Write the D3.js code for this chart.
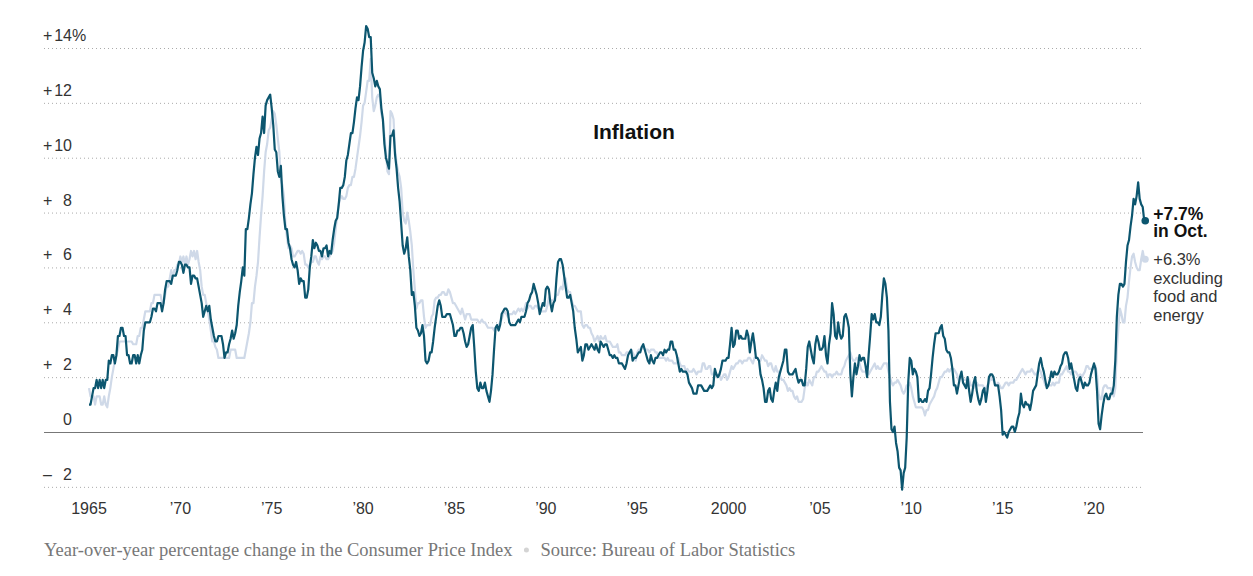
<!DOCTYPE html>
<html>
<head>
<meta charset="utf-8">
<script src="https://cdn.jsdelivr.net/npm/d3@7"></script>
<style>
  body { margin: 0; background: #fff; }
  svg { display: block; }
</style>
</head>
<body>
<script>
var w = 1253;
var h = 576;

// monthly year-over-year change, Jan 1965 .. Oct 2022
var startYear = 1965;
var allItems = [
  1.0, 1.0, 1.3, 1.6, 1.6, 1.9, 1.6, 1.9, 1.6, 1.9, 1.6, 1.9,
  1.9, 2.6, 2.5, 2.8, 2.8, 2.5, 2.8, 3.5, 3.5, 3.8, 3.8, 3.5,
  3.5, 2.8, 2.8, 2.5, 2.5, 2.8, 2.8, 2.5, 2.8, 2.5, 2.8, 3.0,
  3.7, 4.0, 4.0, 4.0, 4.0, 4.2, 4.5, 4.5, 4.4, 4.7, 4.7, 4.7,
  4.4, 4.7, 5.2, 5.5, 5.5, 5.5, 5.4, 5.7, 5.7, 5.7, 5.9, 6.2,
  6.2, 6.1, 5.8, 6.1, 6.1, 6.0, 6.0, 5.4, 5.7, 5.7, 5.6, 5.6,
  5.3, 5.0, 4.7, 4.2, 4.4, 4.6, 4.4, 4.6, 4.1, 3.8, 3.5, 3.3,
  3.3, 3.5, 3.5, 3.5, 3.2, 2.7, 2.9, 2.9, 3.2, 3.4, 3.7, 3.4,
  3.6, 3.9, 4.6, 5.1, 5.5, 6.0, 5.7, 7.4, 7.4, 7.8, 8.3, 8.7,
  9.4, 10.0, 10.4, 10.1, 10.7, 10.9, 11.5, 10.9, 11.9, 12.1, 12.2, 12.3,
  11.8, 11.2, 10.3, 10.2, 9.5, 9.3, 9.7, 8.6, 7.9, 7.4, 7.4, 6.9,
  6.7, 6.3, 6.1, 6.0, 6.2, 5.9, 5.4, 5.6, 5.5, 5.5, 4.9, 4.9,
  5.2, 6.0, 6.4, 7.0, 6.7, 6.9, 6.8, 6.6, 6.6, 6.4, 6.7, 6.7,
  6.8, 6.4, 6.6, 6.5, 7.0, 7.4, 7.7, 7.8, 8.3, 8.9, 8.9, 9.0,
  9.3, 9.9, 10.1, 10.5, 10.9, 10.9, 11.3, 11.8, 12.2, 12.1, 12.6, 13.3,
  13.9, 14.2, 14.8, 14.7, 14.4, 14.4, 13.1, 12.9, 12.6, 12.8, 12.6, 12.5,
  11.8, 11.4, 10.5, 10.0, 9.8, 9.6, 10.8, 10.8, 11.0, 10.1, 9.6, 8.9,
  8.4, 7.6, 6.8, 6.5, 6.7, 7.1, 6.4, 5.9, 5.0, 5.1, 4.6, 3.8,
  3.7, 3.5, 3.6, 3.9, 3.5, 2.6, 2.5, 2.6, 2.9, 2.9, 3.3, 3.8,
  4.2, 4.6, 4.8, 4.6, 4.2, 4.2, 4.2, 4.3, 4.3, 4.3, 4.1, 3.9,
  3.5, 3.5, 3.7, 3.7, 3.8, 3.8, 3.6, 3.3, 3.1, 3.2, 3.5, 3.8,
  3.9, 3.1, 2.2, 1.6, 1.5, 1.8, 1.6, 1.6, 1.8, 1.5, 1.3, 1.1,
  1.5, 2.1, 3.0, 3.8, 3.9, 3.7, 3.9, 4.3, 4.4, 4.5, 4.5, 4.4,
  4.0, 3.9, 3.9, 3.9, 3.9, 4.0, 4.1, 4.0, 4.2, 4.2, 4.2, 4.4,
  4.7, 4.8, 5.0, 5.1, 5.4, 5.2, 5.0, 4.7, 4.3, 4.5, 4.7, 4.6,
  5.2, 5.3, 5.2, 4.7, 4.4, 4.7, 4.8, 5.6, 6.2, 6.3, 6.3, 6.1,
  5.7, 5.3, 4.9, 4.9, 5.0, 4.7, 4.4, 3.8, 3.4, 2.9, 3.0, 3.1,
  2.6, 2.8, 3.2, 3.2, 3.0, 3.1, 3.2, 3.1, 3.0, 3.2, 3.0, 2.9,
  3.3, 3.2, 3.1, 3.2, 3.2, 3.0, 2.8, 2.8, 2.7, 2.8, 2.7, 2.7,
  2.5, 2.5, 2.5, 2.4, 2.3, 2.5, 2.8, 2.9, 3.0, 2.6, 2.7, 2.7,
  2.8, 2.9, 2.9, 3.1, 3.2, 3.0, 2.8, 2.6, 2.5, 2.8, 2.6, 2.5,
  2.7, 2.7, 2.8, 2.9, 2.9, 2.8, 3.0, 2.9, 3.0, 3.0, 3.3, 3.3,
  3.0, 3.0, 2.8, 2.5, 2.2, 2.3, 2.2, 2.2, 2.2, 2.1, 1.8, 1.7,
  1.6, 1.4, 1.4, 1.4, 1.7, 1.7, 1.7, 1.6, 1.5, 1.5, 1.5, 1.6,
  1.7, 1.6, 1.7, 2.3, 2.1, 2.0, 2.1, 2.3, 2.6, 2.6, 2.6, 2.7,
  2.7, 3.2, 3.8, 3.1, 3.2, 3.7, 3.7, 3.4, 3.5, 3.4, 3.4, 3.4,
  3.7, 3.5, 2.9, 3.3, 3.6, 3.2, 2.7, 2.7, 2.6, 2.1, 1.9, 1.6,
  1.1, 1.1, 1.5, 1.6, 1.2, 1.1, 1.5, 1.8, 1.5, 2.0, 2.2, 2.4,
  2.6, 3.0, 3.0, 2.2, 2.1, 2.1, 2.1, 2.2, 2.3, 2.0, 1.8, 1.9,
  1.9, 1.7, 1.7, 2.3, 3.1, 3.3, 3.0, 2.7, 2.5, 3.2, 3.5, 3.3,
  3.0, 3.0, 3.1, 3.5, 2.8, 2.5, 3.2, 3.6, 4.7, 4.3, 3.5, 3.4,
  4.0, 3.6, 3.4, 3.5, 4.2, 4.3, 4.1, 3.8, 2.1, 1.3, 2.0, 2.5,
  2.1, 2.4, 2.8, 2.6, 2.7, 2.7, 2.4, 2.0, 2.8, 3.5, 4.3, 4.1,
  4.3, 4.0, 4.0, 3.9, 4.2, 5.0, 5.6, 5.4, 4.9, 3.7, 1.1, 0.1,
  0.0, 0.2, -0.4, -0.7, -1.3, -1.4, -2.1, -1.5, -1.3, -0.2, 1.8, 2.7,
  2.6, 2.1, 2.3, 2.2, 2.0, 1.1, 1.2, 1.1, 1.1, 1.2, 1.1, 1.5,
  1.6, 2.1, 2.7, 3.2, 3.6, 3.6, 3.6, 3.8, 3.9, 3.5, 3.4, 3.0,
  2.9, 2.9, 2.7, 2.3, 1.7, 1.7, 1.4, 1.7, 2.0, 2.2, 1.8, 1.7,
  1.6, 2.0, 1.5, 1.1, 1.4, 1.8, 2.0, 1.5, 1.2, 1.0, 1.2, 1.5,
  1.6, 1.1, 1.5, 2.0, 2.1, 2.1, 2.0, 1.7, 1.7, 1.7, 1.3, 0.8,
  -0.1, 0.0, -0.1, -0.2, 0.0, 0.1, 0.2, 0.2, 0.0, 0.2, 0.5, 0.7,
  1.4, 1.0, 0.9, 1.1, 1.0, 1.0, 0.8, 1.1, 1.5, 1.6, 1.7, 2.1,
  2.5, 2.7, 2.4, 2.2, 1.9, 1.6, 1.7, 1.9, 2.2, 2.0, 2.2, 2.1,
  2.1, 2.2, 2.4, 2.5, 2.8, 2.9, 2.9, 2.7, 2.3, 2.5, 2.2, 1.9,
  1.6, 1.5, 1.9, 2.0, 1.8, 1.6, 1.8, 1.7, 1.7, 1.8, 2.1, 2.3,
  2.5, 2.3, 1.5, 0.3, 0.1, 0.6, 1.0, 1.3, 1.4, 1.2, 1.2, 1.4,
  1.4, 1.7, 2.6, 4.2, 5.0, 5.4, 5.4, 5.3, 5.4, 6.2, 6.8, 7.0,
  7.5, 7.9, 8.5, 8.3, 8.6, 9.1, 8.5, 8.3, 8.2, 7.7
];
var coreItems = [
  1.6, 1.3, 1.3, 1.3, 1.0, 1.3, 1.3, 1.3, 1.0, 1.0, 1.3, 1.0,
  0.9, 1.3, 1.6, 2.0, 2.3, 2.6, 2.8, 3.0, 3.3, 3.3, 3.3, 3.3,
  3.3, 3.3, 3.3, 3.3, 3.3, 3.2, 3.2, 3.2, 3.5, 3.5, 3.8, 3.8,
  4.1, 4.4, 4.4, 4.4, 4.4, 4.7, 4.7, 5.0, 5.0, 5.0, 5.0, 5.0,
  4.7, 4.7, 5.0, 5.3, 5.3, 5.6, 5.9, 5.6, 5.9, 5.9, 6.1, 6.1,
  6.4, 6.2, 6.4, 6.1, 6.4, 6.1, 6.3, 6.6, 6.4, 6.6, 6.3, 6.6,
  6.2, 5.9, 5.3, 5.0, 5.0, 4.7, 4.4, 4.1, 3.7, 3.3, 3.3, 3.1,
  3.0, 2.7, 2.7, 2.7, 2.7, 2.7, 2.7, 2.7, 2.7, 3.0, 3.0, 3.0,
  3.0, 2.7, 2.7, 2.7, 2.7, 2.7, 2.7, 3.0, 3.3, 3.6, 4.0, 4.7,
  4.7, 5.3, 5.7, 6.2, 7.1, 7.9, 8.6, 9.5, 10.2, 10.5, 11.0, 11.1,
  11.4, 11.7, 11.6, 11.2, 10.7, 10.2, 9.2, 9.0, 8.6, 7.6, 7.1, 6.7,
  6.8, 6.7, 6.4, 6.4, 6.5, 6.6, 6.6, 6.5, 6.6, 6.5, 6.1, 6.1,
  6.0, 6.1, 6.2, 6.2, 6.4, 6.4, 6.2, 6.1, 6.4, 6.3, 6.4, 6.4,
  6.3, 6.3, 6.4, 6.5, 6.6, 6.9, 7.4, 7.9, 8.3, 8.5, 8.6, 8.5,
  8.5, 8.6, 8.9, 9.0, 9.0, 9.3, 9.3, 9.6, 10.0, 10.4, 10.8, 11.3,
  11.9, 12.0, 12.4, 12.8, 12.8, 13.6, 12.2, 11.7, 11.9, 12.2, 12.3, 12.2,
  11.6, 11.4, 10.8, 10.2, 9.5, 9.4, 11.7, 11.6, 11.4, 10.3, 9.8, 9.5,
  9.3, 8.9, 8.0, 7.7, 7.6, 8.0, 7.7, 7.3, 6.8, 5.9, 5.2, 4.5,
  4.7, 4.7, 4.8, 4.8, 4.2, 3.8, 3.9, 3.9, 3.9, 4.2, 4.3, 4.8,
  4.9, 4.9, 5.0, 5.0, 5.1, 5.1, 5.0, 5.0, 5.2, 5.1, 4.9, 4.7,
  4.7, 4.6, 4.5, 4.4, 4.3, 4.5, 4.3, 4.1, 4.3, 4.3, 4.3, 4.1,
  4.1, 4.1, 4.1, 4.1, 4.0, 4.0, 4.1, 4.0, 4.0, 3.9, 3.8, 3.8,
  3.8, 3.8, 3.7, 3.8, 3.8, 3.9, 4.0, 4.1, 4.3, 4.4, 4.3, 4.2,
  4.3, 4.3, 4.3, 4.4, 4.3, 4.4, 4.5, 4.4, 4.5, 4.4, 4.5, 4.7,
  4.5, 4.6, 4.6, 4.5, 4.5, 4.6, 4.6, 4.5, 4.4, 4.4, 4.4, 4.4,
  4.4, 4.6, 4.9, 4.8, 4.8, 4.8, 4.9, 5.0, 5.0, 5.2, 5.3, 5.2,
  5.6, 5.6, 5.2, 5.1, 5.1, 4.8, 4.6, 4.6, 4.5, 4.4, 4.4, 4.4,
  3.9, 3.8, 3.9, 3.9, 3.8, 3.8, 3.6, 3.5, 3.3, 3.4, 3.5, 3.3,
  3.5, 3.4, 3.4, 3.5, 3.3, 3.3, 3.3, 3.2, 3.1, 3.1, 3.1, 3.2,
  2.9, 2.9, 2.8, 2.8, 2.8, 2.9, 2.9, 2.9, 3.0, 2.9, 2.8, 2.6,
  2.9, 3.0, 3.0, 3.1, 3.1, 3.0, 3.0, 3.0, 2.9, 3.0, 3.0, 3.0,
  2.9, 2.9, 2.7, 2.7, 2.7, 2.7, 2.7, 2.6, 2.7, 2.6, 2.6, 2.6,
  2.5, 2.5, 2.5, 2.7, 2.5, 2.4, 2.4, 2.4, 2.2, 2.3, 2.2, 2.2,
  2.2, 2.3, 2.2, 2.1, 2.2, 2.2, 2.2, 2.5, 2.5, 2.3, 2.3, 2.4,
  2.4, 2.1, 2.1, 2.2, 2.0, 2.1, 2.1, 1.9, 2.0, 2.1, 2.1, 1.9,
  2.0, 2.2, 2.4, 2.3, 2.4, 2.5, 2.5, 2.6, 2.6, 2.5, 2.6, 2.6,
  2.6, 2.7, 2.7, 2.6, 2.5, 2.7, 2.7, 2.7, 2.6, 2.6, 2.8, 2.7,
  2.6, 2.6, 2.4, 2.5, 2.5, 2.3, 2.2, 2.4, 2.2, 2.2, 2.0, 1.9,
  1.9, 1.8, 1.7, 1.5, 1.6, 1.5, 1.5, 1.3, 1.2, 1.3, 1.1, 1.1,
  1.1, 1.2, 1.6, 1.8, 1.7, 1.9, 1.8, 1.7, 2.0, 2.0, 2.2, 2.2,
  2.3, 2.4, 2.3, 2.2, 2.2, 2.0, 2.1, 2.1, 2.0, 2.1, 2.1, 2.2,
  2.1, 2.1, 2.1, 2.3, 2.4, 2.6, 2.7, 2.8, 2.9, 2.7, 2.6, 2.6,
  2.7, 2.7, 2.5, 2.3, 2.2, 2.2, 2.2, 2.1, 2.1, 2.2, 2.3, 2.4,
  2.5, 2.3, 2.4, 2.3, 2.3, 2.4, 2.5, 2.5, 2.5, 2.2, 2.0, 1.8,
  1.7, 1.8, 1.8, 1.9, 1.8, 1.7, 1.5, 1.4, 1.5, 1.7, 1.7, 1.8,
  1.6, 1.3, 1.1, 0.9, 0.9, 0.9, 0.9, 0.9, 0.8, 0.6, 0.8, 0.8,
  1.0, 1.1, 1.2, 1.3, 1.5, 1.6, 1.8, 2.0, 2.0, 2.1, 2.2, 2.2,
  2.3, 2.2, 2.3, 2.3, 2.3, 2.2, 2.1, 1.9, 2.0, 2.0, 1.9, 1.9,
  1.9, 2.0, 1.9, 1.7, 1.7, 1.6, 1.7, 1.8, 1.7, 1.7, 1.7, 1.7,
  1.6, 1.6, 1.7, 1.8, 2.0, 1.9, 1.9, 1.7, 1.7, 1.8, 1.7, 1.6,
  1.6, 1.7, 1.8, 1.8, 1.7, 1.8, 1.8, 1.8, 1.9, 1.9, 2.0, 2.1,
  2.2, 2.3, 2.2, 2.1, 2.2, 2.2, 2.2, 2.3, 2.2, 2.1, 2.1, 2.2,
  2.3, 2.2, 2.0, 1.9, 1.7, 1.7, 1.7, 1.7, 1.7, 1.8, 1.7, 1.8,
  1.8, 1.8, 2.1, 2.1, 2.2, 2.3, 2.4, 2.2, 2.2, 2.1, 2.2, 2.2,
  2.2, 2.1, 2.0, 2.1, 2.0, 2.1, 2.2, 2.4, 2.4, 2.3, 2.3, 2.3,
  2.3, 2.4, 2.1, 1.4, 1.2, 1.2, 1.6, 1.7, 1.7, 1.6, 1.6, 1.6,
  1.4, 1.3, 1.6, 3.0, 3.8, 4.5, 4.3, 4.0, 4.0, 4.6, 4.9, 5.5,
  6.0, 6.4, 6.5, 6.2, 6.0, 5.9, 5.9, 6.3, 6.6, 6.3
];

var yTicks = [14, 12, 10, 8, 6, 4, 2, 0, -2];
var xTicks = [1965, 1970, 1975, 1980, 1985, 1990, 1995, 2000, 2005, 2010, 2015, 2020];
var xTickLabels = ["1965", "\u201970", "\u201975", "\u201980", "\u201985", "\u201990", "\u201995", "2000", "\u201905", "\u201910", "\u201915", "\u201920"];

var darkColor = "#0c566f";
var lightColor = "#cfd9e8";
var sans = "'Liberation Sans', Arial, sans-serif";
var serif = "'Liberation Serif', Georgia, serif";

var svg = d3.select("body")
    .append("svg")
    .attr("width", w)
    .attr("height", h);

var x = d3.scaleLinear().domain([1965, 2020]).range([89, 1094]);
var y = d3.scaleLinear().domain([0, 14]).range([432, 48]);

function toPoints(arr) {
    return arr.map(function (v, i) {
        return { t: startYear + i / 12, v: v };
    });
}

var dark = toPoints(allItems);
var light = toPoints(coreItems);

// grid
svg.append("g")
    .selectAll("line")
    .data(yTicks.filter(function (d) { return d !== 0; }))
    .enter()
    .append("line")
    .attr("x1", 44)
    .attr("x2", 1143)
    .attr("y1", function (d) { return y(d) + 0.5; })
    .attr("y2", function (d) { return y(d) + 0.5; })
    .attr("stroke", "#aaa")
    .attr("stroke-width", 1)
    .attr("stroke-dasharray", "1,3");

svg.append("line")
    .attr("x1", 44)
    .attr("x2", 1143)
    .attr("y1", y(0) + 0.5)
    .attr("y2", y(0) + 0.5)
    .attr("stroke", "#777")
    .attr("stroke-width", 1);

// y labels: sign at the left, number right-aligned
var yl = svg.append("g")
    .attr("font-family", sans)
    .attr("font-size", 16)
    .attr("fill", "#333");

yl.selectAll("text.sign")
    .data(yTicks.filter(function (d) { return d !== 0; }))
    .enter()
    .append("text")
    .attr("class", "sign")
    .attr("x", 43)
    .attr("y", function (d) { return y(d) - 7; })
    .text(function (d) { return d > 0 ? "+" : "\u2013"; });

yl.selectAll("text.num")
    .data(yTicks)
    .enter()
    .append("text")
    .attr("class", "num")
    .attr("x", 72)
    .attr("y", function (d) { return y(d) - 7; })
    .attr("text-anchor", "end")
    .text(function (d) { return Math.abs(d); });

yl.append("text")
    .attr("x", 72)
    .attr("y", y(14) - 7)
    .text("%");

// x labels
svg.append("g")
    .selectAll("text")
    .data(xTicks)
    .enter()
    .append("text")
    .attr("x", function (d) { return x(d); })
    .attr("y", 514)
    .attr("text-anchor", "middle")
    .attr("font-family", sans)
    .attr("font-size", 16)
    .attr("fill", "#333")
    .text(function (d, i) { return xTickLabels[i]; });

var line = d3.line()
    .x(function (d) { return x(d.t); })
    .y(function (d) { return y(d.v); });

svg.append("path")
    .datum(light)
    .attr("d", line)
    .attr("fill", "none")
    .attr("stroke", lightColor)
    .attr("stroke-width", 2.2)
    .attr("stroke-linejoin", "round");

svg.append("path")
    .datum(dark)
    .attr("d", line)
    .attr("fill", "none")
    .attr("stroke", darkColor)
    .attr("stroke-width", 2.2)
    .attr("stroke-linejoin", "round");

var lastDark = dark[dark.length - 1];
var lastLight = light[light.length - 1];

svg.append("circle")
    .attr("cx", x(lastLight.t) + 1)
    .attr("cy", y(lastLight.v))
    .attr("r", 3.5)
    .attr("fill", lightColor);

svg.append("circle")
    .attr("cx", x(lastDark.t) + 1)
    .attr("cy", y(lastDark.v))
    .attr("r", 3.8)
    .attr("fill", darkColor);

// end labels
var lx = x(lastDark.t) + 9;
var t1 = svg.append("text")
    .attr("font-family", sans)
    .attr("font-size", 17.5)
    .attr("font-weight", "bold")
    .attr("fill", "#111");
t1.append("tspan").attr("x", lx).attr("y", y(lastDark.v) - 1).text("+" + lastDark.v.toFixed(1) + "%");
t1.append("tspan").attr("x", lx).attr("dy", 17.5).text("in Oct.");

var t2 = svg.append("text")
    .attr("font-family", sans)
    .attr("font-size", 16.5)
    .attr("fill", "#333");
t2.append("tspan").attr("x", lx).attr("y", y(lastLight.v) + 6).text("+" + lastLight.v.toFixed(1) + "%");
["excluding", "food and", "energy"].forEach(function (s) {
    t2.append("tspan").attr("x", lx).attr("dy", 18.5).text(s);
});

// title
svg.append("text")
    .attr("x", 634)
    .attr("y", 139)
    .attr("text-anchor", "middle")
    .attr("font-family", sans)
    .attr("font-size", 21)
    .attr("font-weight", "bold")
    .attr("fill", "#111")
    .text("Inflation");

// footer: note, small dot, source
var note = svg.append("text")
    .attr("x", 44)
    .attr("y", 556)
    .attr("font-family", serif)
    .attr("font-size", 18.5)
    .attr("fill", "#777")
    .text("Year-over-year percentage change in the Consumer Price Index");

var noteEnd = 44 + note.node().getComputedTextLength();

svg.append("circle")
    .attr("cx", noteEnd + 14)
    .attr("cy", 550)
    .attr("r", 2.5)
    .attr("fill", "#d4d4d4");

svg.append("text")
    .attr("x", noteEnd + 28)
    .attr("y", 556)
    .attr("font-family", serif)
    .attr("font-size", 18.5)
    .attr("fill", "#777")
    .text("Source: Bureau of Labor Statistics");
</script>
</body>
</html>
